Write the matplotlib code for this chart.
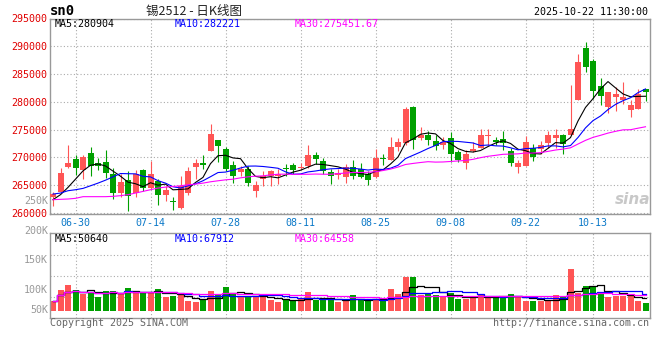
import matplotlib
matplotlib.use('Agg')
import matplotlib.pyplot as plt
import numpy as np
import pandas as pd

plt.rcParams['font.family'] = ['DejaVu Sans Mono', 'Noto Sans CJK SC']

# trading days of sn2512, national day holiday removed
holidays = ['2025-10-01', '2025-10-02', '2025-10-03', '2025-10-06', '2025-10-07', '2025-10-08']
days = pd.bdate_range('2025-06-25', '2025-10-22')
days = days[~days.isin(pd.to_datetime(holidays))]
day_labels = [d.strftime('%m-%d') for d in days]

tick_days = ['06-30', '07-14', '07-28', '08-11', '08-25', '09-08', '09-22', '10-13']

open_p = [262800, 263810, 268340, 269640, 267680, 270720, 269050, 269170, 267080, 263510,
          265890, 263630, 267800, 264530, 265780, 263280, 262090, 260890, 263510, 268220,
          268930, 271130, 273040, 271430, 268570, 267380, 267860, 263990, 266070, 266670,
          266670, 268040, 268570, 268150, 268450, 270360, 269350, 267380, 266850, 266490,
          268270, 267860, 267080, 266490, 269940, 269470, 271850, 272500, 278990, 273510,
          274110, 272860, 272140, 273450, 271010, 269050, 271130, 271730, 273930, 273160,
          273270, 271130, 268330, 268450, 271730, 271430, 272620, 273510, 274110, 274110,
          280240, 289700, 287320, 282860, 278990, 280890, 280240, 278460, 278750, 282260]
high_p = [263700, 268160, 272140, 270360, 270500, 271850, 269940, 271370, 268150, 266960,
          267560, 267800, 267920, 269290, 266070, 264880, 262800, 266670, 268330, 269640,
          270360, 276070, 273040, 271900, 269350, 268450, 268450, 265770, 267560, 267740,
          267860, 268750, 269050, 269050, 272140, 271010, 269940, 267860, 267860, 268750,
          269520, 269050, 267560, 271430, 270660, 273630, 273510, 279050, 279170, 275480,
          274700, 274110, 273690, 274530, 271310, 271310, 272800, 275120, 275180, 273750,
          274700, 271610, 269520, 273930, 272320, 272920, 274700, 275120, 274290, 283040,
          288690, 290770, 287620, 284350, 281850, 282620, 283630, 280240, 282320, 282260]
low_p = [261300, 263690, 268160, 266850, 266070, 266670, 267740, 266370, 262500, 262800,
         260420, 262920, 263990, 264230, 261430, 262200, 260600, 260710, 263280, 266070,
         267860, 271130, 269170, 267500, 265300, 266670, 264760, 262920, 264880, 264880,
         265180, 266670, 267090, 267860, 268160, 268750, 266960, 265180, 266070, 265360,
         266070, 266250, 265000, 266370, 268570, 269470, 271130, 272200, 271550, 273210,
         272140, 271310, 271430, 269170, 269170, 267860, 270950, 271610, 272140, 272140,
         271310, 268450, 267140, 268450, 269350, 270540, 271730, 271730, 270540, 274110,
         280240, 285420, 280540, 279460, 277980, 278270, 279640, 277260, 278750, 280060]
close_p = [263400, 267260, 268930, 268160, 270060, 268450, 268450, 267140, 263510, 265480,
           263100, 267020, 264530, 267020, 263280, 264050, 261910, 264880, 267500, 269050,
           268630, 274290, 272030, 267860, 266670, 267980, 265300, 265060, 266670, 267560,
           266960, 267860, 267680, 268330, 270360, 269640, 267560, 266670, 267260, 268270,
           266670, 266490, 265890, 269940, 269760, 271910, 272800, 278750, 273210, 274110,
           273040, 272030, 272740, 270540, 269530, 270540, 271430, 274110, 274110, 272680,
           272560, 269050, 268930, 272800, 270120, 272140, 274110, 274110, 272320, 275120,
           287080, 286310, 282020, 281070, 281730, 281430, 280830, 279460, 281430, 281850]
volume = [40300, 85900, 106650, 85900, 69300, 74700, 56850, 81750, 81750, 69300,
          94200, 75950, 75950, 75950, 90050, 58100, 61000, 65150, 40250, 36100,
          42750, 81750, 69300, 98350, 73450, 61000, 61000, 56850, 56850, 44400,
          36100, 42750, 42750, 52700, 77600, 45650, 45650, 44400, 36100, 44400,
          63500, 44400, 40250, 48550, 44400, 90050, 69300, 139850, 139850, 63500,
          73450, 65150, 55200, 73450, 48550, 48550, 56850, 69300, 55200, 59350,
          55200, 69300, 59350, 40250, 40250, 40250, 40250, 65150, 61000, 174300,
          71800, 102500, 102500, 78850, 58100, 62250, 61000, 63500, 40250, 31950]

# moving averages before the window is full
ma5_head = [262380, 263280, 264590, 266070]
ma10_head = [263390, 263570, 263990, 264170, 264410, 264880, 265360, 265890, 266490]
ma30_head = [262380, 262440, 262500, 262620, 262920, 262920, 262920, 262920, 262980, 263100,
             263280, 263570, 263870, 264170, 264470, 264640, 264760, 264880, 265060, 265180,
             265360, 265600, 265780, 265950, 266070, 266310, 266490, 266610, 266670]

ma_text = ['280904', '282221', '275451.67']
vma_text = ['50640', '67912', '64558']
vol_labels = ['250K', '200K', '150K', '100K', '50K']

up_col = '#FF5555'
down_col = '#00A000'
ma_cols = ['black', '#0000FF', '#FF00FF']
grid_kw = dict(color='#AAAAAA', linestyle=(0, (1, 2)), linewidth=0.8)

x = np.arange(len(day_labels))
o = np.array(open_p)
c = np.array(close_p)
colors = np.where(c >= o, up_col, down_col)

closes = pd.Series(close_p, dtype=float)
mas = []
for n, head in zip([5, 10, 30], [ma5_head, ma10_head, ma30_head]):
    m = closes.rolling(n).mean()
    m.iloc[:n - 1] = head
    mas.append(m)
vols = pd.Series(volume, dtype=float)
vmas = [vols.rolling(n, min_periods=1).mean() for n in [5, 10, 30]]

W, H = 660, 360
fig = plt.figure(figsize=(6.6, 3.6), dpi=100)
fig.patch.set_facecolor('white')


def px(xp, yp):
    return xp / W, 1 - yp / H


ax = fig.add_axes([50 / W, 1 - 214 / H, 600 / W, 195.5 / H])
axv = fig.add_axes([50 / W, 1 - 318.3 / H, 600 / W, 85 / H])

tick_pos = [day_labels.index(d) for d in tick_days]

# price panel
body_lo = np.minimum(o, c)
body_h = np.maximum(np.abs(c - o), 150)
ax.vlines(x, low_p, high_p, colors=colors, linewidth=0.8, zorder=2)
ax.bar(x, body_h, bottom=body_lo, width=0.8, color=colors, linewidth=0, zorder=3)
for m, col in zip(mas, ma_cols):
    ax.plot(x, m, color=col, linewidth=0.8, zorder=4)
ax.set_xlim(-0.4, len(x) - 0.4)
ax.set_ylim(259800, 295000)
ax.set_yticks(np.arange(260000, 295001, 5000))
ax.set_xticks(tick_pos, tick_days)
ax.tick_params(axis='y', length=0, pad=2, labelsize=7.2, labelcolor='#E00000')
ax.tick_params(axis='x', length=0, pad=3, labelsize=7.2, labelcolor='#0A78C8')
ax.grid(True, **grid_kw)
ax.set_axisbelow(True)

# volume panel
axv.bar(x, volume, width=0.8, color=colors, linewidth=0, zorder=2)
for m, col in zip(vmas, ma_cols):
    axv.plot(x, m, color=col, linewidth=0.9, drawstyle='steps-mid', zorder=3)
axv.set_xlim(-0.4, len(x) - 0.4)
vlim = (-31500, 321000)
axv.set_ylim(*vlim)
axv.set_yticks(np.linspace(vlim[0], vlim[1], 5)[1:-1])
axv.set_xticks(tick_pos)
axv.tick_params(length=0, labelbottom=False, labelleft=False)
axv.grid(True, **grid_kw)
axv.set_axisbelow(True)

for a in (ax, axv):
    for s in a.spines.values():
        s.set_color('#999999')
        s.set_linewidth(1.0)

# header texts
fig.text(*px(50, 11), 'sn0', fontsize=10, fontweight='bold', va='center', ha='left')
fig.text(*px(194, 11), '锡2512 - 日K线图', fontsize=9, va='center', ha='center',
         family=['Noto Sans CJK SC', 'DejaVu Sans'], color='#222222')
fig.text(*px(648, 12), '2025-10-22 11:30:00', fontsize=7.2, va='center', ha='right')

for i, (name, val) in enumerate(zip(['MA5', 'MA10', 'MA30'], ma_text)):
    fig.text(*px(55 + 120 * i, 24), name + ':' + val, fontsize=7.2, va='center',
             ha='left', color=ma_cols[i], zorder=5)
for i, (name, val) in enumerate(zip(['MA5', 'MA10', 'MA30'], vma_text)):
    fig.text(*px(55 + 120 * i, 238.5), name + ':' + val, fontsize=7.2, va='center',
             ha='left', color=ma_cols[i], zorder=5)

for lab, yp in zip(vol_labels, [201, 230.7, 260.3, 290, 310]):
    fig.text(*px(48, yp), lab, fontsize=7.2, va='center', ha='right', color='#999999')

fig.text(*px(50, 323.5), 'Copyright 2025 SINA.COM', fontsize=7.2, va='center',
         ha='left', color='#666666')
fig.text(*px(649, 323.5), 'http://finance.sina.com.cn', fontsize=7.2, va='center',
         ha='right', color='#666666')
fig.text(*px(633, 199), 'sina', fontsize=11, fontweight='bold', style='italic',
         va='center', ha='center', color='#BBBBBB', family='DejaVu Sans', alpha=0.8)

fig.savefig('out.png', dpi=100)
